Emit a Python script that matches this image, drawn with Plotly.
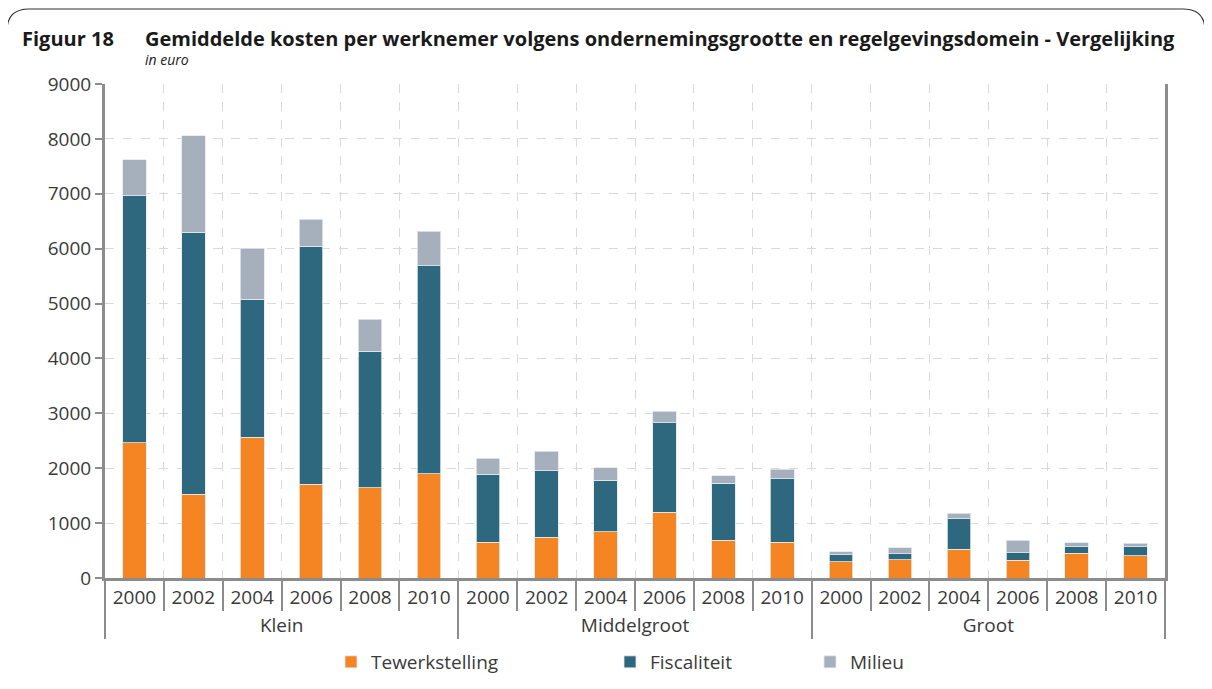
import plotly.graph_objects as go

groups = ["Klein"] * 6 + ["Middelgroot"] * 6 + ["Groot"] * 6
years = ["2000", "2002", "2004", "2006", "2008", "2010"] * 3

tewerkstelling = [2460, 1530, 2560, 1710, 1640, 1900,
                  650, 740, 840, 1200, 690, 650,
                  300, 330, 520, 320, 450, 410]
fiscaliteit = [4500, 4770, 2520, 4330, 2490, 3790,
               1240, 1210, 940, 1630, 1040, 1160,
               120, 110, 560, 140, 120, 160]
milieu = [660, 1760, 930, 500, 580, 630,
          290, 360, 230, 210, 130, 170,
          55, 115, 100, 230, 75, 65]

y_ticks = list(range(0, 9001, 1000))

FONT = "Open Sans"
TXT = "#3a3a3a"

fig = go.Figure()
series = [("Tewerkstelling", tewerkstelling, "#F58422", "legend"),
          ("Fiscaliteit", fiscaliteit, "#2D687E", "legend2"),
          ("Milieu", milieu, "#A6AFBC", "legend3")]
for name, vals, col, lg in series:
    fig.add_trace(go.Bar(
        x=[groups, years], y=vals, name=name,
        marker=dict(color=col, line=dict(color="#e4e8ec", width=0.8)),
        legend=lg,
    ))

# page body has an 8px margin; work in page pixels and convert
OFF = 8
PW, PH = 1212, 689
W, H = PW - 2 * OFF, PH - 2 * OFF
L, R, T, B = 105, 1165, 84, 578  # plot area in page pixels
pw, ph = R - L, B - T

def px(x):
    return (x - L) / pw

def py(y):
    return (B - y) / ph

def leg(xpix):
    return dict(xref="container", yref="container",
                x=(xpix - OFF) / W, xanchor="left",
                y=1 - (662 - OFF) / H, yanchor="middle",
                orientation="h", font=dict(family=FONT, size=19, color=TXT),
                bgcolor="rgba(0,0,0,0)", itemwidth=30, tracegroupgap=0)

fig.update_layout(
    width=W, height=H,
    margin=dict(l=L - OFF, r=W - (R - OFF), t=T - OFF, b=H - (B - OFF), pad=0,
                autoexpand=False),
    paper_bgcolor="white", plot_bgcolor="white",
    barmode="stack", bargap=0.6,
    font=dict(family=FONT, size=19, color=TXT),
    showlegend=True,
    legend=leg(373 - 42),
    legend2=leg(652 - 42),
    legend3=leg(852 - 42),
    xaxis=dict(
        type="multicategory", automargin=False,
        tickson="boundaries",
        showgrid=True, gridcolor="#d9d9d9", griddash="dash", gridwidth=1,
        ticks="outside", ticklen=30, tickwidth=2, tickcolor="#8c8c8c",
        showline=True, linecolor="#8c8c8c", linewidth=3,
        showdividers=True, dividercolor="#8c8c8c", dividerwidth=2,
        tickfont=dict(family=FONT, size=19, color=TXT),
    ),
    yaxis=dict(
        range=[0, 9000], tickvals=y_ticks, automargin=False,
        showgrid=True, gridcolor="#d9d9d9", griddash="dash", gridwidth=1,
        ticks="outside", ticklen=7, tickwidth=2, tickcolor="#8c8c8c",
        showline=True, linecolor="#8c8c8c", linewidth=3, mirror=True,
        zeroline=False,
        tickfont=dict(family=FONT, size=19, color=TXT),
    ),
)

# title texts
fig.add_annotation(xref="paper", yref="paper", x=px(20), y=py(39), xanchor="left",
                   yanchor="middle", showarrow=False,
                   text="<b>Figuur 18</b>", font=dict(family=FONT, size=20, color="#1a1a1a"))
fig.add_annotation(xref="paper", yref="paper", x=px(143), y=py(39), xanchor="left",
                   yanchor="middle", showarrow=False,
                   text="<b>Gemiddelde kosten per werknemer volgens ondernemingsgrootte en regelgevingsdomein - Vergelijking</b>",
                   font=dict(family=FONT, size=20, color="#1a1a1a"))
fig.add_annotation(xref="paper", yref="paper", x=px(143), y=py(60), xanchor="left",
                   yanchor="middle", showarrow=False,
                   text="<i>in euro</i>", font=dict(family=FONT, size=14, color="#1a1a1a"))

# rounded outer frame
x0, x1, y0, y1, r = 7, 1205, 9, 688, 22
def P(x, y):
    return f"{px(x)},{py(y)}"
path = (f"M {P(x0, y1)} L {P(x0, y0 + r)} Q {P(x0, y0)} {P(x0 + r, y0)} "
        f"L {P(x1 - r, y0)} Q {P(x1, y0)} {P(x1, y0 + r)} L {P(x1, y1)}")
fig.add_shape(type="path", xref="paper", yref="paper", path=path,
              line=dict(color="#333333", width=1.2), layer="above")

fig.write_html("out.html")
